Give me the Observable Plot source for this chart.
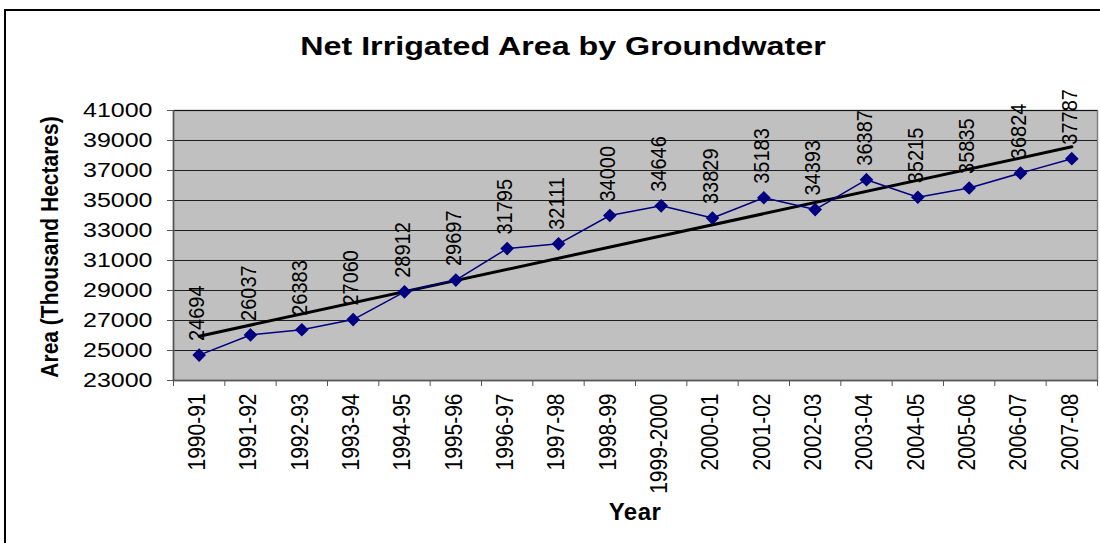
<!DOCTYPE html>
<html>
<head>
<meta charset="utf-8">
<script src="https://cdn.jsdelivr.net/npm/d3@7"></script>
<script src="https://cdn.jsdelivr.net/npm/@observablehq/plot@0.6"></script>
<style>
  html, body { margin: 0; padding: 0; background: #fff; overflow: hidden; }
  #wrap { position: relative; width: 1100px; height: 543px; font-family: "Liberation Sans", Arial, sans-serif; }
  #border { position: absolute; left: 4px; top: 9px; width: 1200px; height: 700px; border-left: 2px solid #000; border-top: 2px solid #000; box-sizing: border-box; }
  #chart { position: absolute; left: 0; top: 0; }
  #title { position: absolute; left: 0; top: 33px; width: 1126px; text-align: center; font-size: 26px; line-height: 26px; font-weight: bold; transform: scaleX(1.24); transform-origin: 563px 13px; color: #000; }
  #ylab { position: absolute; left: -100px; top: 235px; width: 300px; height: 24px; line-height: 24px; text-align: center; font-size: 21px; font-weight: bold; transform: rotate(-90deg) scaleY(1.1); transform-origin: 150px 12px; color: #000; }
  #xlab { position: absolute; left: 535px; top: 500px; width: 200px; text-align: center; font-size: 24px; line-height: 24px; font-weight: bold; color: #000; letter-spacing: 0.5px; }
</style>
</head>
<body>
<div id="wrap">
  <div id="border"></div>
  <div id="chart"></div>
  <div id="title">Net Irrigated Area by Groundwater</div>
  <div id="ylab">Area (Thousand Hectares)</div>
  <div id="xlab">Year</div>
</div>
<script>
const years = ["1990-91","1991-92","1992-93","1993-94","1994-95","1995-96","1996-97","1997-98","1998-99","1999-2000","2000-01","2001-02","2002-03","2003-04","2004-05","2005-06","2006-07","2007-08"];
const values = [24694, 26037, 26383, 27060, 28912, 29697, 31795, 32111, 34000, 34646, 33829, 35183, 34393, 36387, 35215, 35835, 36824, 37787];
const yTicks = [23000, 25000, 27000, 29000, 31000, 33000, 35000, 37000, 39000, 41000];

const data = years.map((y, k) => ({i: k + 1, year: y, value: values[k]}));
const idx = data.map(d => d.i);
const bounds = [0.5, ...idx.map(i => i + 0.5)];

const plot = Plot.plot({
  width: 1100,
  height: 543,
  marginLeft: 173,
  marginRight: 3,
  marginTop: 110,
  marginBottom: 163,
  style: {fontFamily: "'Liberation Sans', Arial, sans-serif", background: "transparent", overflow: "visible", color: "#000"},
  x: {type: "linear", domain: [0.5, 18.5]},
  y: {domain: [23000, 41000]},
  marks: [
    Plot.frame({fill: "#c0c0c0", stroke: "#808080", strokeWidth: 1.5}),
    Plot.gridY(yTicks, {stroke: "#000", strokeOpacity: 0.85, strokeWidth: 1}),
    Plot.axisY(yTicks, {tickSize: 6, tickPadding: 15, tickFormat: d => String(d), fontSize: 20, label: null, stroke: "#555"}),
    Plot.axisX(bounds, {tickSize: 6, tickFormat: () => "", label: null, stroke: "#555"}),
    Plot.axisX(idx, {tickSize: 0, tickPadding: 13, tickRotate: -90, tickFormat: i => years[i - 1], fontSize: 21, label: null, dx: -2}),
    Plot.ruleY([23000], {stroke: "#555", strokeWidth: 1.5}),
    Plot.ruleX([0.5], {stroke: "#555", strokeWidth: 1.5}),
    Plot.linearRegressionY(data, {x: "i", y: "value", ci: 0, stroke: "#000", strokeWidth: 3}),
    Plot.line(data, {x: "i", y: "value", stroke: "#000080", strokeWidth: 1.5}),
    Plot.dot(data, {x: "i", y: "value", symbol: "diamond2", r: 5.2, fill: "#000080", stroke: "#000080"}),
    Plot.text(data, {x: "i", y: "value", text: d => String(d.value), rotate: -90, textAnchor: "start", dy: -14, dx: -2, fontSize: 20, fill: "#000", style: "letter-spacing:-0.5px"})
  ]
});
document.getElementById("chart").appendChild(plot);

// stretch glyphs horizontally on screen, as in the reference rendering
function stretch(selector, sx, sy) {
  plot.querySelectorAll(selector).forEach(el => {
    const t = el.getAttribute("transform") || "";
    const x = +el.getAttribute("x") || 0;
    const y = +el.getAttribute("y") || 0;
    el.setAttribute("transform", `${t} translate(${x},${y}) scale(${sx},${sy}) translate(${-x},${-y})`);
  });
}
stretch('g[aria-label="y-axis tick label"] text', 1.25, 1);
stretch('g[aria-label="x-axis tick label"] text', 1, 1.15);
stretch('g[aria-label="text"] text', 1, 1.1);
</script>
</body>
</html>
